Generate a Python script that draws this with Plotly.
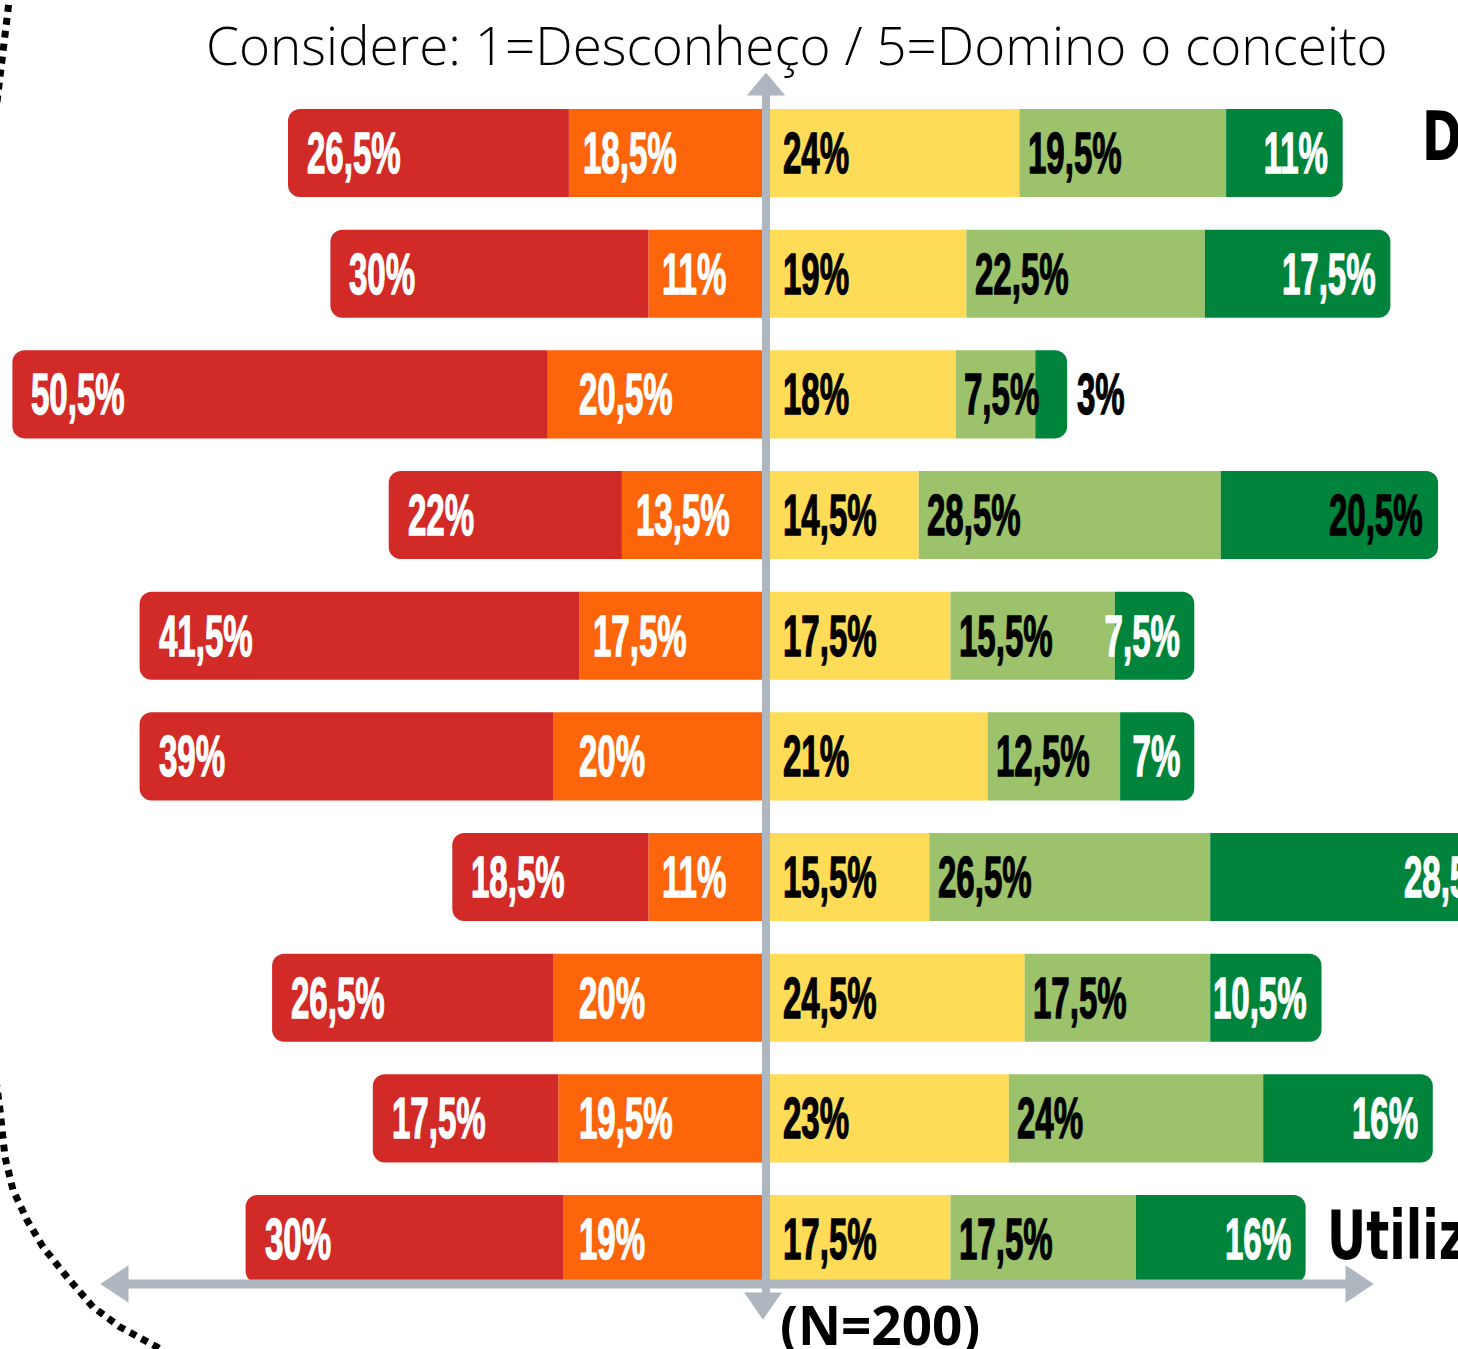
import plotly.graph_objects as go

# ---------------- data ----------------
ROWS = list(range(10))                     # row index, top to bottom
VAL_1 = [26.5, 30, 50.5, 22, 41.5, 39, 18.5, 26.5, 17.5, 30]      # 1 = Desconheço
VAL_2 = [18.5, 11, 20.5, 13.5, 17.5, 20, 11, 20, 19.5, 19]
VAL_3 = [24, 19, 18, 14.5, 17.5, 21, 15.5, 24.5, 23, 17.5]
VAL_4 = [19.5, 22.5, 7.5, 28.5, 15.5, 12.5, 26.5, 17.5, 24, 17.5]
VAL_5 = [11, 17.5, 3, 20.5, 7.5, 7, 28.5, 10.5, 16, 16]           # 5 = Domino o conceito
SUBTITLE = "Considere: 1=Desconheço / 5=Domino o conceito"
SAMPLE = "(N=200)"
RIGHT_LABEL_ROWS = [0, 9]
RIGHT_LABELS = ["D", "Utiliz"]

# ---------------- style ----------------
W, H = 1458, 1349
CX, PPU = 765, 10.6          # pixel of x=0 and pixels per percentage point
ROW0, PITCH = 153, 120.67    # pixel centre of first row, row pitch
C1, C2, C3, C4, C5 = "#D12A27", "#FC650A", "#FFDC57", "#9CC26B", "#00843B"
GRAY = "#AEB6C0"
LBL_FONT = "Liberation Sans, Arial"
LBL_SIZE = 57
DARK_LABEL_COLORS = ["white", "white", "black", "black", "white",
                     "white", "white", "white", "white", "white"]
RIGHT_LABEL_X = [61.8, 52.8]
RIGHT_LABEL_YSHIFT = [16, 3]


def fmt(v):
    s = ("%g" % v).replace(".", ",")
    return s + "%"


def xpaper(xv):
    """data value (percentage points) -> paper fraction"""
    return (CX + xv * PPU) / W


def ypaper(row):
    return 1 - (ROW0 + row * PITCH) / H


fig = go.Figure()
common = dict(orientation="h", width=0.73, marker_line_width=0, hoverinfo="skip")
fig.add_trace(go.Bar(y=ROWS, x=[-v for v in VAL_2], marker_color=C2, **common))
fig.add_trace(go.Bar(y=ROWS, x=[-v for v in VAL_1], marker_color=C1, **common))
fig.add_trace(go.Bar(y=ROWS, x=VAL_3, marker_color=C3, **common))
fig.add_trace(go.Bar(y=ROWS, x=VAL_4, marker_color=C4, **common))
fig.add_trace(go.Bar(y=ROWS, x=VAL_5, marker_color=C5, **common))

ann = []


def lbl(x, row, text, color, anchor):
    ann.append(dict(x=xpaper(x), y=ypaper(row), xref="paper", yref="paper", text=text,
                    showarrow=False, xanchor=anchor, yanchor="middle", align=anchor,
                    font=dict(family=LBL_FONT, size=LBL_SIZE, color=color, weight="bold")))


for i, r in enumerate(ROWS):
    v1, v2, v3, v4, v5 = VAL_1[i], VAL_2[i], VAL_3[i], VAL_4[i], VAL_5[i]
    lbl(-(v1 + v2) + 1.6, r, fmt(v1), "white", "left")
    lbl(max(-v2 + 1.1, -17.7), r, fmt(v2), "white", "left")
    lbl(1.5, r, fmt(v3), "black", "left")
    lbl(v3 + 0.6, r, fmt(v4), "black", "left")
    if v5 >= 5:
        lbl(v3 + v4 + v5 - 1.2, r, fmt(v5), DARK_LABEL_COLORS[i], "right")
    else:
        lbl(v3 + v4 + v5 + 0.7, r, fmt(v5), "black", "left")

for r, t, x, ys in zip(RIGHT_LABEL_ROWS, RIGHT_LABELS, RIGHT_LABEL_X, RIGHT_LABEL_YSHIFT):
    ann.append(dict(x=xpaper(x), y=ypaper(r), xref="paper", yref="paper", text=t,
                    showarrow=False, xanchor="left", yanchor="middle", align="left", yshift=ys,
                    font=dict(family="DejaVu Sans", size=67, color="black", weight="bold")))


def P(px, py):
    return f"{px / W:.5f},{1 - py / H:.5f}"


ann.append(dict(x=797 / W, y=1 - 44 / H, xref="paper", yref="paper", text=SUBTITLE,
                showarrow=False, xanchor="center", yanchor="middle",
                font=dict(family="Open Sans", size=53, color="black", weight=300)))
ann.append(dict(x=778 / W, y=1 - 1324 / H, xref="paper", yref="paper", text=SAMPLE,
                showarrow=False, xanchor="left", yanchor="middle",
                font=dict(family="Open Sans", size=53, color="black", weight="bold")))

shapes = []
# vertical axis with arrows
shapes.append(dict(type="line", xref="paper", yref="paper", x0=766 / W, x1=766 / W,
                   y0=1 - 88 / H, y1=1 - 1300 / H, line=dict(color=GRAY, width=8), layer="above"))
shapes.append(dict(type="path", xref="paper", yref="paper",
                   path=f"M{P(766, 75)} L{P(782, 94)} L{P(750, 94)} Z",
                   fillcolor=GRAY, line=dict(color=GRAY, width=3), layer="above"))
shapes.append(dict(type="path", xref="paper", yref="paper",
                   path=f"M{P(763, 1317)} L{P(779, 1294)} L{P(747, 1294)} Z",
                   fillcolor=GRAY, line=dict(color=GRAY, width=3), layer="above"))
# horizontal axis with arrows
shapes.append(dict(type="line", xref="paper", yref="paper", x0=120 / W, x1=1355 / W,
                   y0=1 - 1284 / H, y1=1 - 1284 / H, line=dict(color=GRAY, width=9), layer="above"))
shapes.append(dict(type="path", xref="paper", yref="paper",
                   path=f"M{P(103, 1284)} L{P(127, 1268)} L{P(127, 1300)} Z",
                   fillcolor=GRAY, line=dict(color=GRAY, width=3), layer="above"))
shapes.append(dict(type="path", xref="paper", yref="paper",
                   path=f"M{P(1371, 1284)} L{P(1347, 1268)} L{P(1347, 1300)} Z",
                   fillcolor=GRAY, line=dict(color=GRAY, width=3), layer="above"))
# decorative dotted arcs
bottom_arc = [(-4, 1080), (0, 1110), (5, 1157), (13, 1190), (27, 1220), (43, 1247),
              (67, 1277), (93, 1307), (120, 1327), (157, 1347), (170, 1356)]
top_arc = [(10, -8), (8, 10), (5, 35), (2, 60), (-1, 85), (-4, 110)]
for arc in (bottom_arc, top_arc):
    path = "M" + " L".join(P(x, y) for x, y in arc)
    shapes.append(dict(type="path", xref="paper", yref="paper", path=path,
                       line=dict(color="black", width=7, dash="7px,6px"), layer="above"))

fig.update_layout(
    width=W, height=H, margin=dict(l=0, r=0, t=0, b=0),
    paper_bgcolor="white", plot_bgcolor="white",
    barmode="relative", barcornerradius=12, showlegend=False,
    xaxis=dict(range=[-CX / PPU, (W - CX) / PPU], visible=False, fixedrange=True),
    yaxis=dict(range=[(H - ROW0) / PITCH, -ROW0 / PITCH], visible=False, fixedrange=True),
    annotations=ann, shapes=shapes,
)

css = (
    'html,body{margin:0 !important;padding:0 !important;overflow:hidden;}'
    'text.annotation-text[style*="Liberation"]{transform-box:fill-box;transform:scaleX(0.58);stroke-width:1.3px;}'
    'text.annotation-text[style*="Liberation"][text-anchor="start"]{transform-origin:0% 50%;}'
    'text.annotation-text[style*="Liberation"][text-anchor="end"]{transform-origin:100% 50%;}'
    'text.annotation-text[style*="Liberation"][style*="255, 255, 255"]{stroke:#ffffff;}'
    'text.annotation-text[style*="Liberation"][style*="rgb(0, 0, 0)"]{stroke:#000000;}'
    'text.annotation-text[style*="DejaVu"]{transform-box:fill-box;transform-origin:0% 50%;transform:scaleX(0.72);}'
)
post = "var s=document.createElement('style');s.textContent='" + css + "';document.head.appendChild(s);"
fig.write_html("out.html", post_script=post, config={"displayModeBar": False})
